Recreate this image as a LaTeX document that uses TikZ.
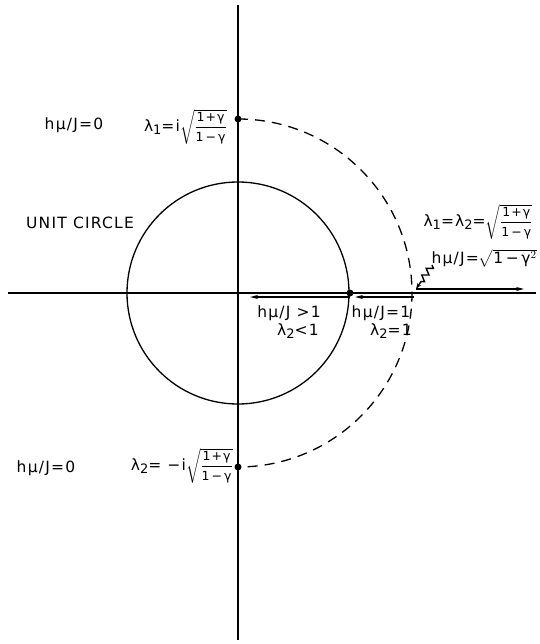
\documentclass[tikz,border=0pt]{standalone}
\usepackage{amsmath}
\usepackage{fontspec}
\setmainfont{DejaVu Sans}[LetterSpace=8]
\usetikzlibrary{arrows.meta,decorations.pathmorphing}
\newcommand{\lsub}[1]{\raisebox{-0.35ex}{\fontsize{13}{13}\selectfont #1}}
\newcommand{\smf}[1]{\hbox{\fontsize{12.5}{13}\selectfont #1}}
\newcommand{\rootfrac}{$\sqrt{\dfrac{\smf{1+γ}}{\smf{1\,−\,γ}}}$}
\begin{document}
\begin{tikzpicture}[x=1pt,y=-1pt,
  ax/.style={line width=1.3pt},
  dot/.style={circle,fill,inner sep=0pt,minimum size=7pt},
  lab/.style={font=\fontsize{15.5}{17}\selectfont,inner sep=0pt},
  arr/.style={line width=1.3pt,-{Stealth[length=8pt,width=4pt]}},
  dsh/.style={line width=1.3pt,dash pattern=on 10pt off 7pt}]
\useasboundingbox (0,0) rectangle (539,644);
% axes
\coordinate (xl) at (8,293);
\coordinate (xr) at (536,293);
\coordinate (yt) at (238,5);
\coordinate (yb) at (238,640);
\coordinate (O) at (238,293);
\draw[ax] (xl) -- (xr);
\draw[ax] (yt) -- (yb);
% unit circle
\draw[ax] (O) circle[radius=111];
% dots
\node[dot] (A) at (238,119) {};
\node[dot] (Bt) at (238,467) {};
\node[dot] (P) at (350,293) {};
% dashed arc
\draw[dsh] (A.center) arc[start angle=-90,end angle=90,radius=174];
% arrows
\coordinate (a1s) at (350,297);
\coordinate (a1e) at (250,297);
\draw[arr] (a1s) -- (a1e);
\coordinate (a2s) at (414,297);
\coordinate (a2e) at (355,297);
\draw[arr] (a2s) -- (a2e);
\coordinate (a3s) at (416,289);
\coordinate (a3e) at (524,289);
\draw[arr] (a3s) -- (a3e);
\coordinate (sq) at (432,265);
\draw[line width=1.4pt,-{Stealth[length=6pt,width=4pt]},decorate,
  decoration={zigzag,amplitude=3pt,segment length=8pt,post length=5pt}] (sq) -- (a3s);
% labels
\node[lab] (t1) at (74,125) {hμ/J=0};
\node[lab,anchor=east] (t2) at (227,127) {λ\lsub{1}=i\rootfrac};
\node[lab] (uc) at (80,223) {UNIT CIRCLE};
\node[lab] (t3) at (478,222) {λ\lsub{1}=λ\lsub{2}=\rootfrac};
\node[lab] (t4) at (484,258) {hμ/J=$\sqrt{\hbox{1\,−\,γ$^2$}}$};
\node[lab] (t5) at (289,313) {hμ/J >1};
\node[lab] (t6) at (298,331) {λ\lsub{2}<1};
\node[lab] (t7) at (381,313) {hμ/J=1};
\node[lab] (t8) at (391,331) {λ\lsub{2}=1};
\node[lab] (t9) at (46,468) {hμ/J=0};
\node[lab,anchor=east] (t10) at (233,466) {λ\lsub{2}= −i\rootfrac};
\end{tikzpicture}
\end{document}
